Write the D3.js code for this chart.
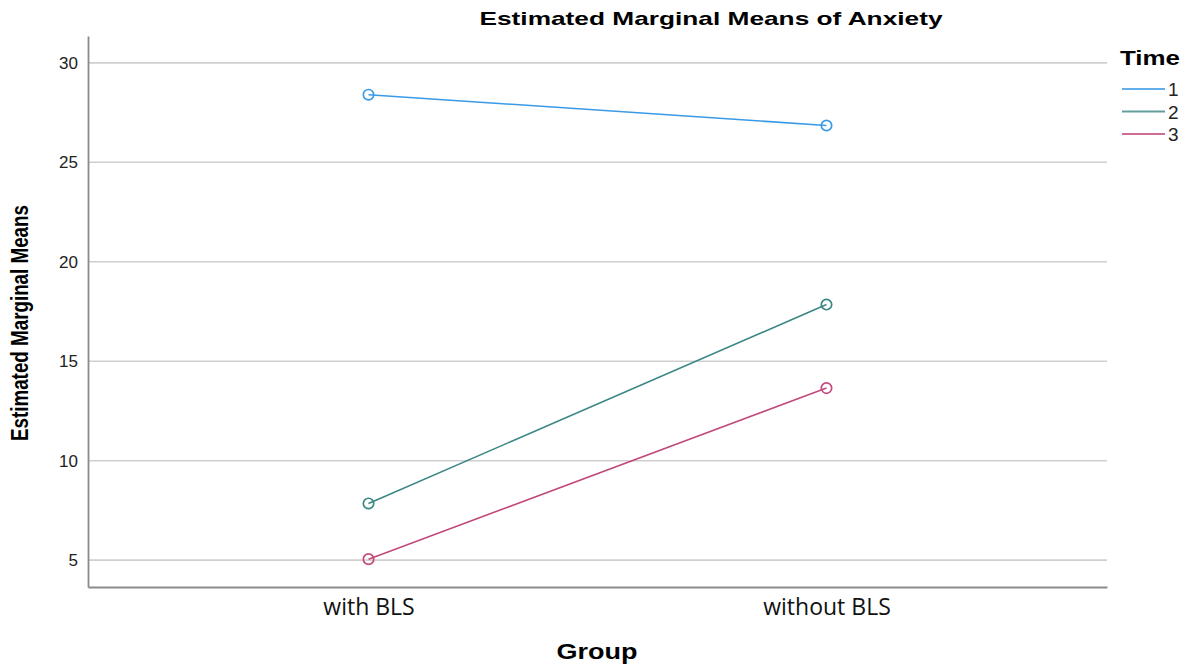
<!DOCTYPE html>
<html>
<head>
<meta charset="utf-8">
<script src="https://cdn.jsdelivr.net/npm/d3@7"></script>
<style>
  html, body { margin: 0; padding: 0; background: #fff; }
  svg { display: block; }
</style>
</head>
<body>
<svg id="chart" width="1188" height="667"></svg>
<script>
// Estimated marginal means of anxiety by group, one line per time point
const groups = ["with BLS", "without BLS"];
const times = ["1", "2", "3"];
const time1 = [28.4, 26.85];
const time2 = [7.85, 17.85];
const time3 = [5.05, 13.65];
const yTicks = [5, 10, 15, 20, 25, 30];
const seriesColors = ["#3a9ae6", "#3a8785", "#c2497c"];

const series = [time1, time2, time3].map((vals, i) => ({
  time: times[i],
  color: seriesColors[i],
  points: vals.map((v, j) => ({ group: groups[j], value: v }))
}));

const svg = d3.select("#chart");
const plot = { left: 88, right: 1107, top: 36, bottom: 587 };

const x = d3.scalePoint()
  .domain(groups)
  .range([plot.left, plot.right])
  .padding(0.6125);

const y = d3.scaleLinear()
  .domain([3.65, 31.35])
  .range([plot.bottom, plot.top]);

// horizontal gridlines
svg.append("g")
  .selectAll("line")
  .data(yTicks)
  .join("line")
  .attr("x1", plot.left)
  .attr("x2", plot.right)
  .attr("y1", d => y(d))
  .attr("y2", d => y(d))
  .attr("stroke", "#cfcfcf")
  .attr("stroke-width", 1.6);

// y axis
const yAxis = svg.append("g")
  .attr("transform", `translate(${plot.left},0)`)
  .call(d3.axisLeft(y).tickValues(yTicks).tickSize(0).tickPadding(10));
yAxis.select(".domain").attr("stroke", "#8a8a8a").attr("stroke-width", 1.8);
yAxis.selectAll("text")
  .attr("font-family", "Liberation Sans, Arial, sans-serif")
  .attr("font-size", 17)
  .attr("fill", "#222");

// x axis
const xAxis = svg.append("g")
  .attr("transform", `translate(0,${plot.bottom})`)
  .call(d3.axisBottom(x).tickSize(0).tickPadding(12));
xAxis.select(".domain").attr("stroke", "#8a8a8a").attr("stroke-width", 1.8);
xAxis.selectAll("text")
  .attr("font-family", "Open Sans, Noto Sans, sans-serif")
  .attr("font-size", 23)
  .attr("fill", "#111");

// lines
const line = d3.line()
  .x(d => x(d.group))
  .y(d => y(d.value));

const sg = svg.append("g").selectAll("g").data(series).join("g");
sg.append("path")
  .attr("d", d => line(d.points))
  .attr("fill", "none")
  .attr("stroke", d => d.color)
  .attr("stroke-width", 1.6);
sg.selectAll("circle")
  .data(d => d.points.map(p => ({ ...p, color: d.color })))
  .join("circle")
  .attr("cx", d => x(d.group))
  .attr("cy", d => y(d.value))
  .attr("r", 5.2)
  .attr("fill", "none")
  .attr("stroke", d => d.color)
  .attr("stroke-width", 1.7);

// title
svg.append("text")
  .attr("x", 711)
  .attr("y", 25)
  .attr("text-anchor", "middle")
  .attr("font-family", "Liberation Sans, Arial, sans-serif")
  .attr("font-weight", "bold")
  .attr("font-size", 19)
  .attr("textLength", 463)
  .attr("lengthAdjust", "spacingAndGlyphs")
  .text("Estimated Marginal Means of Anxiety");

// y axis title (condensed)
svg.append("text")
  .attr("transform", "translate(28,323) rotate(-90)")
  .attr("text-anchor", "middle")
  .attr("font-family", "Liberation Sans Narrow, Liberation Sans, Arial, sans-serif")
  .attr("font-weight", "bold")
  .attr("font-size", 23)
  .attr("textLength", 236)
  .attr("lengthAdjust", "spacingAndGlyphs")
  .text("Estimated Marginal Means");

// x axis title
svg.append("text")
  .attr("x", 597)
  .attr("y", 659)
  .attr("text-anchor", "middle")
  .attr("font-family", "Liberation Sans, Arial, sans-serif")
  .attr("font-weight", "bold")
  .attr("font-size", 22)
  .attr("textLength", 81)
  .attr("lengthAdjust", "spacingAndGlyphs")
  .text("Group");

// legend
const legend = svg.append("g");
legend.append("text")
  .attr("x", 1120)
  .attr("y", 65)
  .attr("font-family", "Liberation Sans, Arial, sans-serif")
  .attr("font-weight", "bold")
  .attr("font-size", 21)
  .attr("textLength", 60)
  .attr("lengthAdjust", "spacingAndGlyphs")
  .text("Time");
const li = legend.selectAll("g.item")
  .data(series)
  .join("g")
  .attr("class", "item")
  .attr("transform", (d, i) => `translate(0,${89 + i * 22.5})`);
li.append("line")
  .attr("x1", 1122).attr("x2", 1165)
  .attr("stroke", d => d.color)
  .attr("stroke-width", 1.8)
  .attr("opacity", 0.8);
li.append("text")
  .attr("x", 1168)
  .attr("y", 7)
  .attr("font-family", "Liberation Sans, Arial, sans-serif")
  .attr("font-size", 19)
  .attr("fill", "#222")
  .text(d => d.time);
</script>
</body>
</html>
